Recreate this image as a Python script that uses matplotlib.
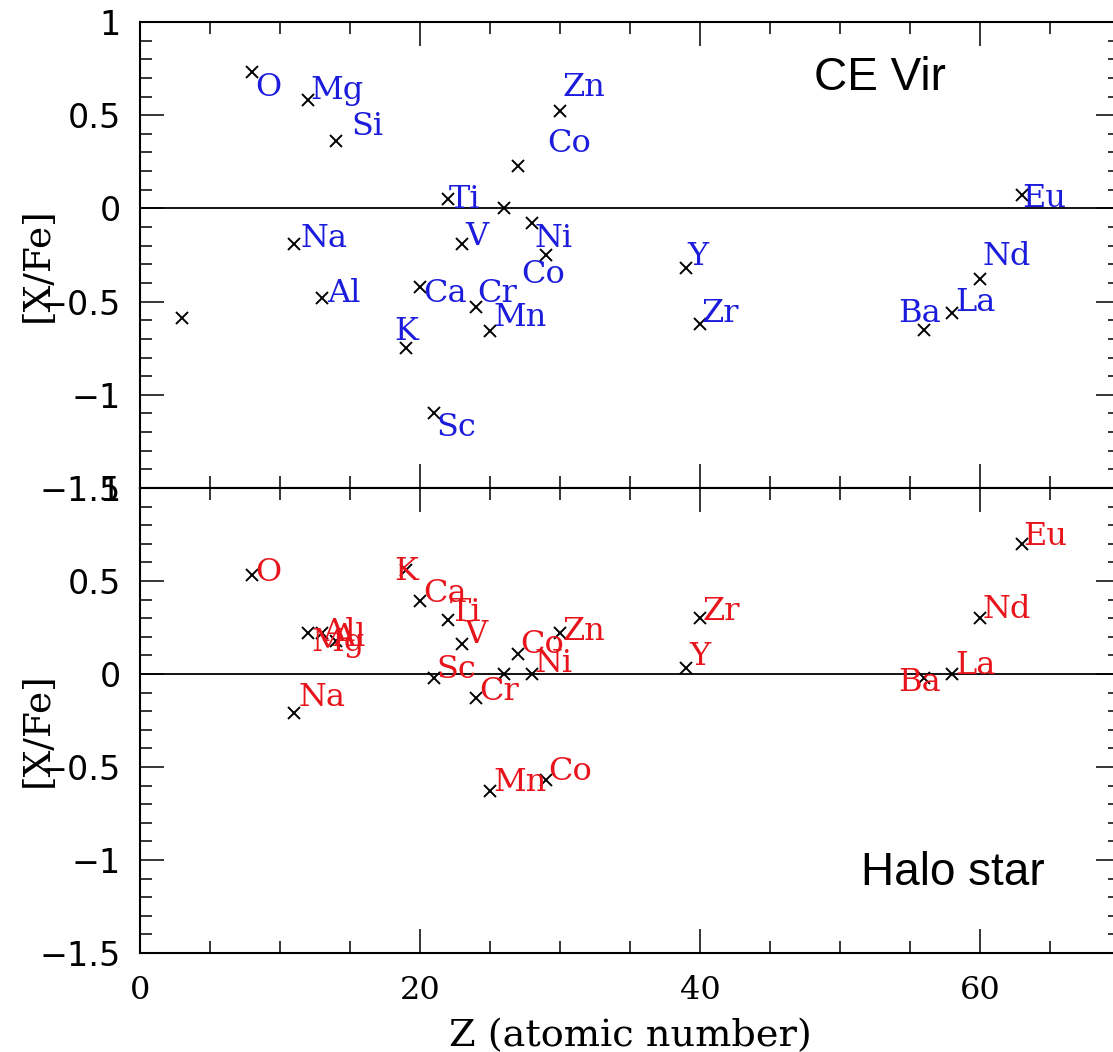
import matplotlib
matplotlib.use("Agg")
import matplotlib.pyplot as plt
from matplotlib.ticker import MultipleLocator, FuncFormatter

# ---- abundance data ------------------------------------------------------
ce_z = [3, 8, 11, 12, 13, 14, 19, 20, 21, 22, 23, 24, 25, 26, 27, 28, 29, 30,
        39, 40, 56, 58, 60, 63]
ce_xfe = [-0.59, 0.73, -0.19, 0.58, -0.48, 0.36, -0.75, -0.42, -1.10, 0.05,
          -0.19, -0.53, -0.66, 0.00, 0.23, -0.08, -0.25, 0.52, -0.32, -0.62,
          -0.65, -0.56, -0.38, 0.07]
ce_names = ['', 'O', 'Na', 'Mg', 'Al', 'Si', 'K', 'Ca', 'Sc', 'Ti', 'V', 'Cr',
            'Mn', '', 'Co', 'Ni', 'Co', 'Zn', 'Y', 'Zr', 'Ba', 'La', 'Nd', 'Eu']

halo_z = [8, 11, 12, 13, 14, 19, 20, 21, 22, 23, 24, 25, 26, 27, 28, 29, 30,
          39, 40, 56, 58, 60, 63]
halo_xfe = [0.53, -0.21, 0.22, 0.22, 0.18, 0.56, 0.39, -0.02, 0.29, 0.16,
            -0.13, -0.63, 0.00, 0.11, 0.00, -0.57, 0.22, 0.03, 0.30, -0.02,
            0.00, 0.30, 0.70]
halo_names = ['O', 'Na', 'Mg', 'Al', 'Al', 'K', 'Ca', 'Sc', 'Ti', 'V', 'Cr',
              'Mn', '', 'Co', 'Ni', 'Co', 'Zn', 'Y', 'Zr', 'Ba', 'La', 'Nd',
              'Eu']

x_ticks = [0, 20, 40, 60]

# label offsets (pixels, from each point to the label's left baseline)
ce_off = [(0, 0), (3, -24), (7, -3), (2, 1), (5, -4), (15, 6), (-12, 8),
          (3, -15), (2, -23), (1, -9), (3, -1), (1, 5), (3, 5), (0, 0),
          (29, 14), (2, -24), (-25, -28), (3, 15), (1, 3), (2, 2), (-26, 8),
          (3, 2), (2, 14), (0, -12)]
halo_off = [(3, -6), (4, 7), (3, -18), (0, -8), (-4, -5), (-12, -10), (3, -1),
            (2, 0), (2, -1), (2, 1), (3, -2), (3, 0), (0, 0), (2, 1), (3, 2),
            (2, 0), (3, -7), (3, 3), (3, -2), (-26, -13), (3, 0), (2, 0),
            (1, -1)]

W, H = 1113, 1052
fig = plt.figure(figsize=(W / 100, H / 100), dpi=100)
fig.patch.set_facecolor('white')

left = 140 / W
width = 980 / W
ax_top = fig.add_axes([left, 1 - 488 / H, width, 466 / H])
ax_bot = fig.add_axes([left, 1 - 953 / H, width, 465 / H])

serif = 'DejaVu Serif'
sans = 'DejaVu Sans'


def yfmt(v, pos):
    s = '%g' % round(v, 2)
    return s.replace('-', '\u2212')


def style(ax, show_x):
    ax.set_xlim(0, 70)
    ax.set_ylim(-1.5, 1.0)
    ax.xaxis.set_major_locator(MultipleLocator(20))
    ax.xaxis.set_minor_locator(MultipleLocator(5))
    ax.yaxis.set_major_locator(MultipleLocator(0.5))
    ax.yaxis.set_minor_locator(MultipleLocator(0.1))
    ax.yaxis.set_major_formatter(FuncFormatter(yfmt))
    ax.tick_params(which='both', direction='in', top=True, right=True,
                   width=1.1, color='black')
    ax.tick_params(which='major', length=17)
    ax.tick_params(which='minor', length=8.5)
    ax.tick_params(axis='y', which='major', pad=14, labelsize=24)
    ax.tick_params(axis='x', which='major', pad=16, labelsize=23,
                   labelbottom=show_x)
    for lab in ax.get_yticklabels():
        lab.set_fontfamily(sans)
    for lab in ax.get_xticklabels():
        lab.set_fontfamily(serif)
    for sp in ax.spines.values():
        sp.set_linewidth(1.5)
    ax.axhline(0, color='black', lw=1.3, zorder=1)
    ax.set_ylabel('[X/Fe]', fontsize=27, family=serif, va='center')
    ax.yaxis.set_label_coords(-0.104, 0.48)


def draw(ax, z, vals, names, offs, color):
    ax.plot(z, vals, linestyle='none', marker='x', markersize=9,
            markeredgewidth=1.4, color='black', zorder=3)
    for zz, v, name, (dx, dy) in zip(z, vals, names, offs):
        if not name:
            continue
        ax.annotate(name, (zz, v), xytext=(dx, dy),
                    textcoords='offset pixels', ha='left', va='baseline',
                    fontsize=23, family=serif, color=color, zorder=4)


style(ax_top, False)
style(ax_bot, True)
ax_bot.set_xticks(x_ticks)
ax_bot.set_xticklabels([str(t) for t in x_ticks], family=serif)

draw(ax_top, ce_z, ce_xfe, ce_names, ce_off, '#1c1cdc')
draw(ax_bot, halo_z, halo_xfe, halo_names, halo_off, '#e8141c')

ax_bot.set_xlabel('Z (atomic number)', fontsize=27.5, family=serif,
                  va='baseline')
ax_bot.xaxis.set_label_coords(0.5, -0.2)

fig.text(814 / W, 1 - 90 / H, 'CE Vir', fontsize=33,
         family='Liberation Sans', ha='left', va='baseline')
fig.text(861 / W, 1 - 885 / H, 'Halo star', fontsize=33,
         family='Liberation Sans', ha='left', va='baseline')

fig.savefig('out.png', dpi=100, facecolor='white')
